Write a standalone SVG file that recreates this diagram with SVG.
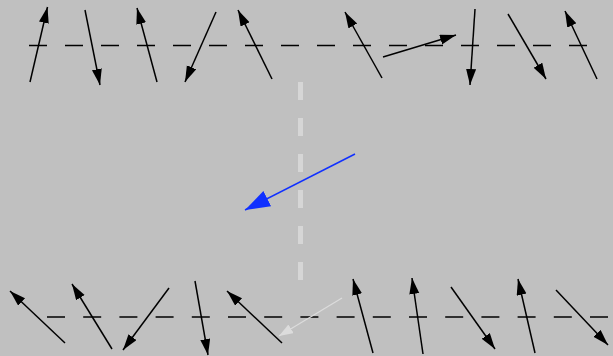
<svg xmlns="http://www.w3.org/2000/svg" width="613" height="356" viewBox="0 0 613 356">
<defs>
<marker id="ah" markerUnits="userSpaceOnUse" markerWidth="17" markerHeight="11" refX="16" refY="5" orient="auto" viewBox="0 0 17 11">
<path d="M0,0 L16,5 L0,10 z" fill="#000"/>
</marker>
<marker id="ahb" markerUnits="userSpaceOnUse" markerWidth="27" markerHeight="18" refX="25" refY="8.5" orient="auto" viewBox="0 0 27 18">
<path d="M0,0 L25,8.5 L0,17 z" fill="#1030ff"/>
</marker>
<marker id="ahw" markerUnits="userSpaceOnUse" markerWidth="15" markerHeight="11" refX="14" refY="5" orient="auto" viewBox="0 0 15 11">
<path d="M0,0 L14,5 L0,10 z" fill="#dcdcdc"/>
</marker>
</defs>
<style>
.a{stroke:#000;stroke-width:1.5;fill:none;marker-end:url(#ah)}
.d{stroke:#000;stroke-width:1.5;stroke-dasharray:18 18;fill:none}
</style>
<rect width="613" height="356" fill="#c0c0c0"/>
<g id="guides">
<line class="d" x1="29" y1="45.5" x2="592" y2="45.5"/>
<line class="d" x1="47" y1="317" x2="612" y2="317" style="stroke-dasharray:18 18.2"/>
<line x1="300.5" y1="82" x2="300.5" y2="282" stroke="#d6d6d6" stroke-width="5" stroke-dasharray="18 18"/>
</g>
<g id="connectors">
<g id="top">
<line class="a" x1="30" y1="82" x2="47.5" y2="7"/>
<line class="a" x1="85" y1="10" x2="100" y2="85"/>
<line class="a" x1="157" y1="82" x2="137" y2="8"/>
<line class="a" x1="216" y1="12" x2="185" y2="82"/>
<line class="a" x1="272" y1="79" x2="238" y2="10"/>
<line class="a" x1="382" y1="78" x2="345" y2="12"/>
<line class="a" x1="383" y1="57" x2="456" y2="35"/>
<line class="a" x1="475" y1="9" x2="470" y2="85"/>
<line class="a" x1="508" y1="14" x2="546" y2="79"/>
<line class="a" x1="597" y1="79" x2="565" y2="11"/>
</g>
<g id="bottom">
<line class="a" x1="65" y1="343" x2="10" y2="291"/>
<line class="a" x1="112" y1="349" x2="72" y2="284"/>
<line class="a" x1="169" y1="288" x2="123" y2="350"/>
<line class="a" x1="195" y1="281" x2="208" y2="355"/>
<line class="a" x1="282" y1="343" x2="227" y2="291"/>
<line class="a" x1="373" y1="353" x2="353" y2="279"/>
<line class="a" x1="423" y1="354" x2="412" y2="278"/>
<line class="a" x1="451" y1="287" x2="495" y2="349"/>
<line class="a" x1="535" y1="353" x2="518" y2="279"/>
<line class="a" x1="556" y1="290" x2="608" y2="345"/>
</g>
<line id="blue" x1="355" y1="154" x2="245" y2="210" stroke="#1030ff" stroke-width="1.5" marker-end="url(#ahb)"/>
<line id="light" x1="342" y1="298" x2="279" y2="336" stroke="#dcdcdc" stroke-width="1.2" marker-end="url(#ahw)"/>
</g>
</svg>
